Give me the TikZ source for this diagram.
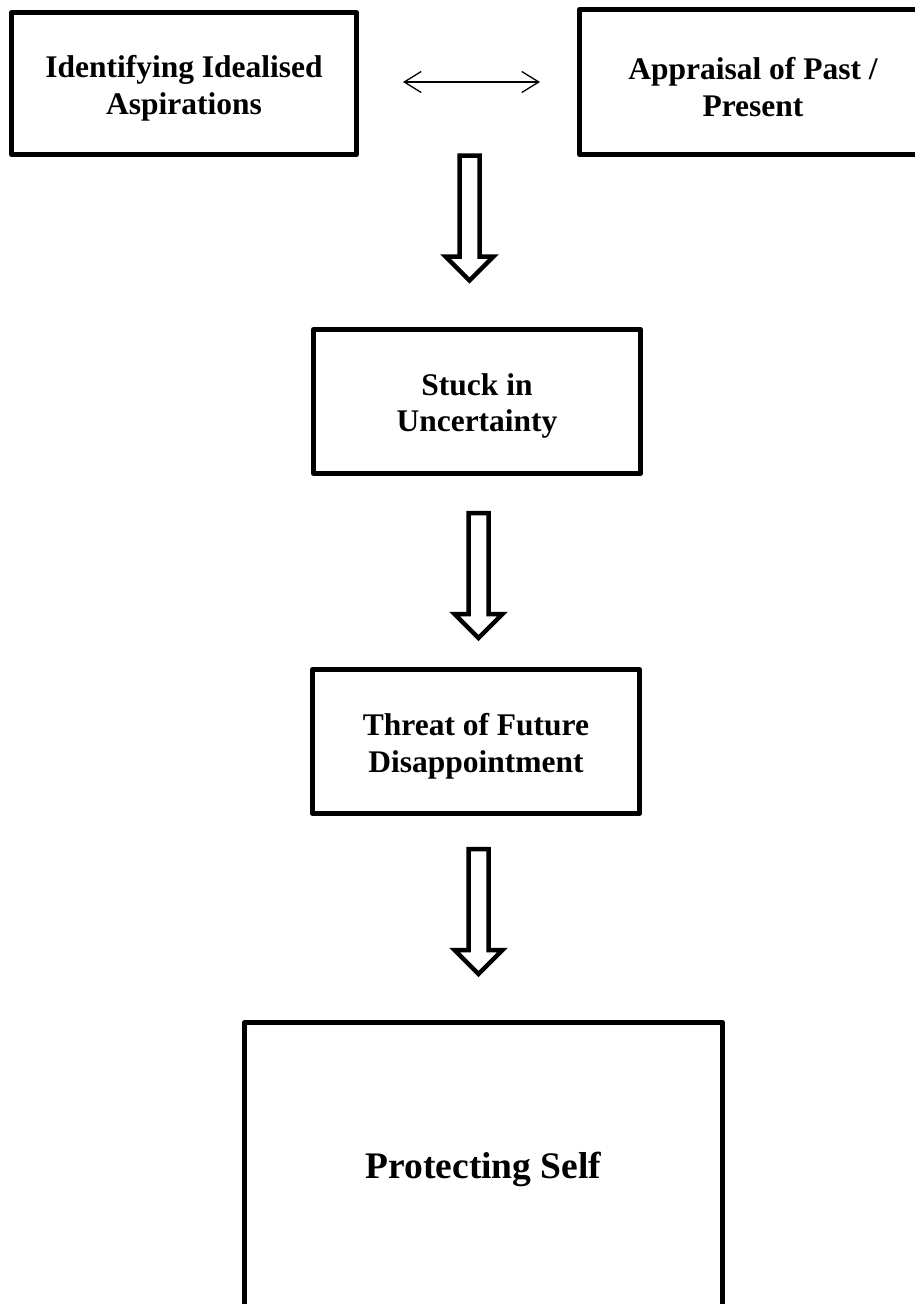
\documentclass[tikz,border=0pt]{standalone}
\usepackage{fontspec}
\setmainfont{Liberation Serif}
\usetikzlibrary{arrows.meta}

% invisible strut that sets the height of a box's first text line
\newcommand{\firstline}{\rule{0pt}{31pt}}

\tikzset{
  box/.style={draw=black, line width=5pt, line join=round, fill=white,
    inner sep=0pt, align=center,
    font=\fontsize{31.5}{36.7}\selectfont\bfseries},
  bigbox/.style={box, font=\fontsize{37.5}{44}\selectfont\bfseries},
  hollow/.style={draw=black, line width=4.5pt, line join=miter, fill=white},
  biarrow/.style={draw=black, line width=1.3pt,
    {Straight Barb[length=17pt, width=21pt, line width=1.3pt]}-{Straight Barb[length=17pt, width=21pt, line width=1.3pt]}},
  % downward block arrow, drawn from the top of its shaft
  pics/blockdown/.style={code={
    \draw[hollow] (-10,0) -- (10,0) -- (10,101) -- (24,101) -- (0,125)
      -- (-24,101) -- (-10,101) -- cycle;
  }}
}

\begin{document}
\begin{tikzpicture}[x=1pt, y=-1pt]
  \fill[white] (0,0) rectangle (915,1304);
  \useasboundingbox (0,0) rectangle (915,1304);

  % boxes
  \node[box, minimum width=345pt, minimum height=142pt] (b1) at (184,83.5)
    {\firstline Identifying Idealised\\Aspirations};
  \node[box, minimum width=347pt, minimum height=145pt] (b2) at (753,82)
    {\rule{0pt}{33pt}Appraisal of Past /\\Present};
  \node[box, minimum width=327pt, minimum height=144pt] (b3) at (477,401.5)
    {\firstline Stuck in\\Uncertainty};
  \node[box, minimum width=327pt, minimum height=144pt] (b4) at (476,741.5)
    {\firstline Threat of Future\\Disappointment};
  \node[bigbox, minimum width=478pt, minimum height=294pt] (b5) at (483.5,1169.5)
    {Protecting Self};

  % two-way link between the top boxes
  \draw[biarrow, shorten <=44pt, shorten >=37pt] (b1.east |- b2.west) -- (b2.west);

  % block arrows down the chain
  \pic at (469.5,155.5) {blockdown};
  \pic at (478.5,513) {blockdown};
  \pic at (478.5,849) {blockdown};
\end{tikzpicture}
\end{document}
